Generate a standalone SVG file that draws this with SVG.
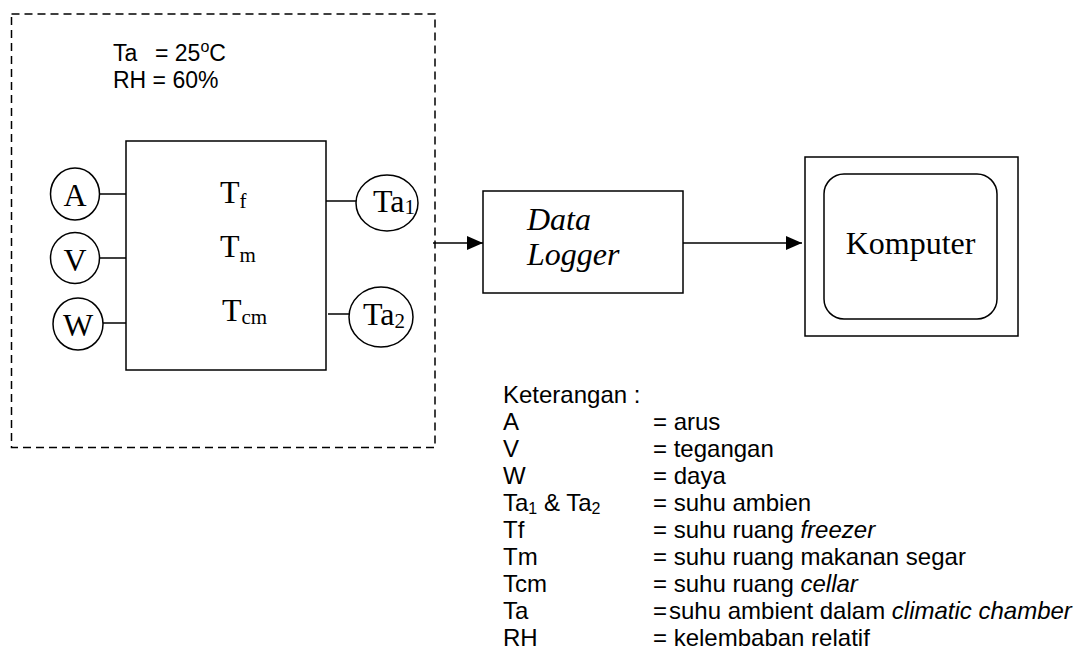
<svg xmlns="http://www.w3.org/2000/svg" width="1085" height="653" viewBox="0 0 1085 653">
<style>
.ln{fill:none;stroke:#000;stroke-width:1.5}
.dash{fill:none;stroke:#000;stroke-width:1.5;stroke-dasharray:8,5}
.tr{font-family:"Liberation Serif","Times New Roman",serif;fill:#000}
.ar{font-family:"Liberation Sans",Arial,sans-serif;font-size:23px;fill:#000}
.lg{font-family:"Liberation Sans",Arial,sans-serif;font-size:24px;fill:#000}
.it{font-style:italic}
</style>
<defs>
<marker id="ah" markerWidth="16" markerHeight="14" refX="16" refY="7" orient="auto" markerUnits="userSpaceOnUse">
<path d="M0,0 L16,7 L0,14 Z" fill="#000"/>
</marker>
</defs>
<rect width="1085" height="653" fill="#fff"/>

<g id="chamber">
<rect class="dash" x="11.5" y="14" width="423.5" height="433.5"/>
<text class="ar" x="113" y="61">Ta</text>
<text class="ar" x="155" y="61">= 25<tspan font-size="16" dy="-9">o</tspan><tspan dy="9">C</tspan></text>
<text class="ar" x="113" y="88">RH = 60%</text>
</g>

<g id="fridge">
<rect class="ln" x="126" y="141" width="200" height="229"/>
<text class="tr" font-size="32" x="220" y="203">T<tspan font-size="21" dy="5">f</tspan></text>
<text class="tr" font-size="32" x="220" y="257">T<tspan font-size="21" dy="5">m</tspan></text>
<text class="tr" font-size="32" x="222" y="321">T<tspan font-size="21" dy="3">cm</tspan></text>
</g>

<g id="meterA">
<ellipse class="ln" cx="75" cy="194" rx="24.5" ry="26"/>
<text class="tr" font-size="32" x="75" y="206" text-anchor="middle">A</text>
</g>
<g id="meterV">
<ellipse class="ln" cx="75" cy="258" rx="24.5" ry="25.5"/>
<text class="tr" font-size="32" x="75" y="271" text-anchor="middle">V</text>
</g>
<g id="meterW">
<ellipse class="ln" cx="78" cy="324" rx="25" ry="26"/>
<text class="tr" font-size="32" x="78" y="336" text-anchor="middle">W</text>
</g>
<g id="sensorTa1">
<ellipse class="ln" cx="387" cy="203" rx="31" ry="28"/>
<text class="tr" font-size="32" x="373" y="212">Ta<tspan font-size="21" dy="2">1</tspan></text>
</g>
<g id="sensorTa2">
<ellipse class="ln" cx="381" cy="317" rx="32" ry="30"/>
<text class="tr" font-size="32" x="363" y="325">Ta<tspan font-size="21" dy="3">2</tspan></text>
</g>

<g id="datalogger">
<rect class="ln" x="483" y="191" width="200" height="102"/>
<text class="tr it" font-size="32" x="527" y="230">Data</text>
<text class="tr it" font-size="32" x="527" y="265">Logger</text>
</g>

<g id="komputer">
<rect class="ln" x="805" y="157" width="213" height="179"/>
<rect class="ln" x="824" y="174" width="173" height="145" rx="20" ry="20"/>
<text class="tr" font-size="32" x="910.5" y="254" text-anchor="middle">Komputer</text>
</g>

<g id="connectors">
<line class="ln" x1="100" y1="194" x2="126" y2="194"/>
<line class="ln" x1="100" y1="258" x2="126" y2="258"/>
<line class="ln" x1="103" y1="323" x2="126" y2="323"/>
<line class="ln" x1="326" y1="201" x2="356" y2="201"/>
<line class="ln" x1="328" y1="314" x2="349" y2="314"/>
<line class="ln" x1="433" y1="243" x2="483" y2="243" marker-end="url(#ah)"/>
<line class="ln" x1="683" y1="243" x2="802" y2="243" marker-end="url(#ah)"/>
</g>

<g id="legend">
<text class="lg" x="503" y="403">Keterangan :</text>
<text class="lg" x="503" y="430">A</text><text class="lg" x="653" y="430">= arus</text>
<text class="lg" x="503" y="457">V</text><text class="lg" x="653" y="457">= tegangan</text>
<text class="lg" x="503" y="484">W</text><text class="lg" x="653" y="484">= daya</text>
<text class="lg" x="503" y="511">Ta<tspan font-size="16" dy="3">1</tspan><tspan dy="-3"> &amp; Ta</tspan><tspan font-size="16" dy="3">2</tspan></text><text class="lg" x="653" y="511">= suhu ambien</text>
<text class="lg" x="503" y="538">Tf</text><text class="lg" x="653" y="538">= suhu ruang <tspan class="it">freezer</tspan></text>
<text class="lg" x="503" y="565">Tm</text><text class="lg" x="653" y="565">= suhu ruang makanan segar</text>
<text class="lg" x="503" y="592">Tcm</text><text class="lg" x="653" y="592">= suhu ruang <tspan class="it">cellar</tspan></text>
<text class="lg" x="503" y="619">Ta</text><text class="lg" x="653" y="619">=<tspan x="669">suhu ambient dalam </tspan><tspan class="it">climatic chamber</tspan></text>
<text class="lg" x="503" y="646">RH</text><text class="lg" x="653" y="646">= kelembaban relatif</text>
</g>
</svg>
